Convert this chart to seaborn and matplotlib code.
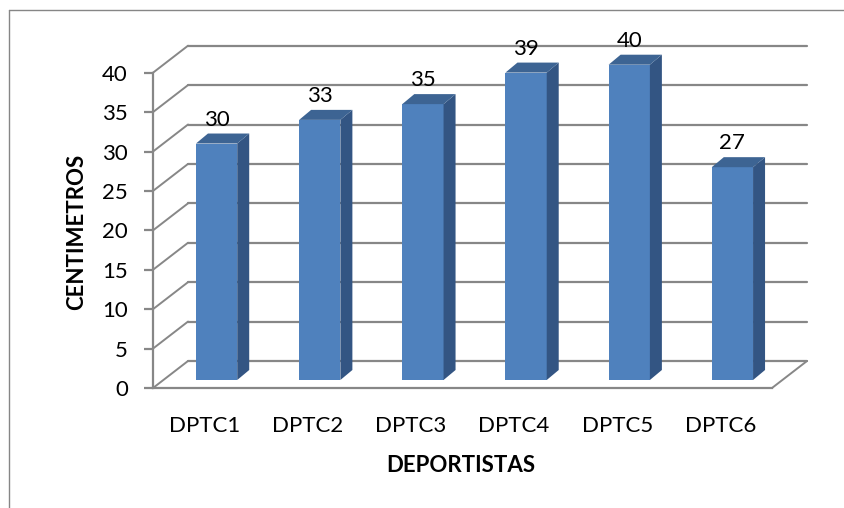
import matplotlib
matplotlib.use("Agg")
import numpy as np
import pandas as pd
import seaborn as sns
import matplotlib.pyplot as plt
from matplotlib.patches import Polygon
from matplotlib.lines import Line2D
from matplotlib.transforms import ScaledTranslation, IdentityTransform

# ---- data ----
categories = ["DPTC1", "DPTC2", "DPTC3", "DPTC4", "DPTC5", "DPTC6"]
values = [30, 33, 35, 39, 40, 27]
y_ticks = [0, 5, 10, 15, 20, 25, 30, 35, 40]
x_title = "DEPORTISTAS"
y_title = "CENTIMETROS"

# ---- style ----
sns.set_theme(style="white")
plt.rcParams["font.family"] = ["Lato", "DejaVu Sans"]

W, H = 844, 508
DPI = 100
fig = plt.figure(figsize=(W / DPI, H / DPI), dpi=DPI)
ax = fig.add_axes([153 / W, (H - 388) / H, 619 / W, 315.3 / H])
ax.patch.set_alpha(0)

front_col = "#4F81BD"
side_col = "#335583"
top_col = "#3D6493"
grid_col = "#878787"

df = pd.DataFrame({"cat": categories, "val": values})
sns.barplot(data=df, x="cat", y="val", color=front_col, saturation=1,
            width=0.4, ax=ax, zorder=5, edgecolor="none")
ax.set_xlim(-0.5, len(categories) - 0.5)
ax.set_ylim(0, 40)
ax.set_yticks(y_ticks)
ax.set_xlabel("")
ax.set_ylabel("")

def off(dx, dy):
    return ScaledTranslation(dx / DPI, dy / DPI, fig.dpi_scale_trans)

WALL = np.array([35.0, 27.0])
BAR_OFF = np.array([12.0, 8.0])
BAR_DEPTH = np.array([12.0, 10.0])
ident = IdentityTransform()

def pix(x, y):
    return ax.transData.transform((x, y))

x0, x1 = ax.get_xlim()
# back wall gridlines and left wall diagonals
for t in y_ticks:
    a = pix(x0, t) + WALL
    b = pix(x1, t) + WALL
    ax.add_line(Line2D([a[0], b[0]], [a[1], b[1]], transform=ident,
                       color=grid_col, lw=1.6, clip_on=False, zorder=1))
    p = pix(x0, t)
    ax.add_line(Line2D([p[0], p[0] + WALL[0]], [p[1], p[1] + WALL[1]],
                       transform=ident, color=grid_col, lw=1.4,
                       clip_on=False, zorder=1))
# floor right edge
p = pix(x1, 0)
ax.add_line(Line2D([p[0], p[0] + WALL[0]], [p[1], p[1] + WALL[1]],
                   transform=ident, color=grid_col, lw=1.4,
                   clip_on=False, zorder=1))

# 3D bars
for patch, v in zip(ax.patches, values):
    x = patch.get_x()
    w = patch.get_width()
    h = patch.get_height()
    patch.set_transform(ax.transData + off(*BAR_OFF))
    patch.set_clip_on(False)
    A = pix(x + w, 0) + BAR_OFF
    B = pix(x + w, h) + BAR_OFF
    side = Polygon([A, B, B + BAR_DEPTH, A + BAR_DEPTH], closed=True,
                   transform=ident, facecolor=side_col, edgecolor="none",
                   clip_on=False, zorder=5)
    ax.add_patch(side)
    L = pix(x, h) + BAR_OFF
    top = Polygon([L, B, B + BAR_DEPTH, L + BAR_DEPTH], closed=True,
                  transform=ident, facecolor=top_col, edgecolor="none",
                  clip_on=False, zorder=5)
    ax.add_patch(top)
    ax.annotate(str(v), xy=(x + w / 2, h), xytext=(BAR_OFF[0], BAR_OFF[1] + 18),
                textcoords="offset pixels", ha="center", va="baseline",
                fontsize=16, color="black", annotation_clip=False, zorder=6)

# spines / ticks
for s in ["top", "right"]:
    ax.spines[s].set_visible(False)
for s in ["left", "bottom"]:
    ax.spines[s].set_color(grid_col)
    ax.spines[s].set_linewidth(1.6)
    ax.spines[s].set_zorder(2)
ax.tick_params(axis="y", left=True, length=6.5, width=1.6, color=grid_col,
               pad=11.5, labelsize=16, labelcolor="black")
ax.tick_params(axis="x", bottom=False, pad=14, labelsize=16, labelcolor="black")

# axis titles
fig.text(77 / W, (H - 232) / H, y_title, rotation=90, ha="center", va="center",
         fontsize=16, fontweight="bold", color="black")
fig.text(461 / W, (H - 465) / H, x_title, ha="center", va="center",
         fontsize=16, fontweight="bold", color="black")

# chart border (left and top)
fig.add_artist(Line2D([8.5 / W, 8.5 / W], [0, (H - 10) / H], transform=fig.transFigure,
                      color="#868686", lw=1.0))
fig.add_artist(Line2D([8.5 / W, 1], [(H - 10) / H, (H - 10) / H], transform=fig.transFigure,
                      color="#868686", lw=1.0))

fig.savefig("out.png", dpi=DPI)
